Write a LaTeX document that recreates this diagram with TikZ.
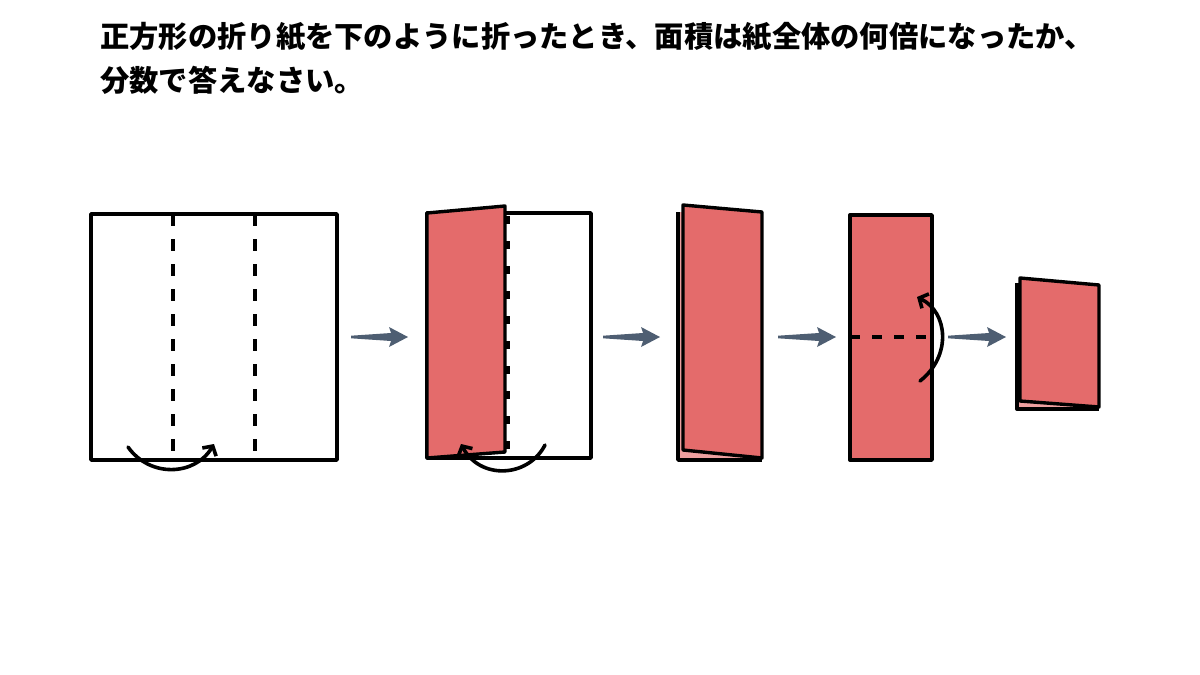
\documentclass[tikz,border=0pt]{standalone}
\usepackage{fontspec}
\newfontfamily\cjk{Noto Sans CJK JP}
\usetikzlibrary{arrows.meta,calc}
\definecolor{paperred}{RGB}{228,107,107}
\definecolor{paperpink}{RGB}{238,160,160}
\definecolor{slate}{RGB}{78,94,114}
\newcommand\slatearrow[2]{\fill[slate] ($(#1)+(0,-1.3)$) -- ($(#2)+(-17,-4)$) -- ($(#2)+(-19,-10)$) -- (#2) -- ($(#2)+(-19,10)$) -- ($(#2)+(-17,4)$) -- ($(#1)+(0,1.3)$) -- cycle;}
\begin{document}
\begin{tikzpicture}[x=1pt,y=-1pt,
  outline/.style={line width=3.4pt, line join=round},
  crease/.style={line width=3.4pt, dash pattern=on 12pt off 13pt},
  hcrease/.style={line width=3.4pt, dash pattern=on 10pt off 12pt},
  foldarrow/.style={line width=3.6pt, line cap=round, -{Straight Barb[length=7pt,width=16pt]}},
  txt/.style={font=\cjk\bfseries\fontsize{29.3}{35}\selectfont, anchor=base west, inner sep=0pt}]
\useasboundingbox (0,0) rectangle (1200,675);
% question text
\node[txt] (t1) at (100,47) {正方形の折り紙を下のように折ったとき、面積は紙全体の何倍になったか、};
\node[txt] (t2) at (100,91) {分数で答えなさい。};

% panel 1
\draw[outline] (91,214) rectangle (337,460);
\draw[crease] (173,214) -- (173,456);
\draw[crease] (255,214) -- (255,456);
\coordinate (a1s) at (128,447);
\coordinate (a1e) at (214,444);
\draw[foldarrow] (a1s) .. controls (150,478) and (195,476) .. (a1e);

% panel 2
\draw[outline, fill=white] (427,213) rectangle (591,458);
\draw[line width=3.6pt, dash pattern=on 8pt off 17pt] (508,216) -- (508,452);
\draw[outline, fill=paperred] (427,213) -- (505,206) -- (505,452) -- (427,458) -- cycle;
\coordinate (a2s) at (545,445);
\coordinate (a2e) at (461,444);
\draw[foldarrow] (a2s) .. controls (528,478) and (480,480) .. (a2e);

% panel 3
\fill[paperpink] (678,212) rectangle (762,460);
\draw[outline] (678,212) -- (678,460) -- (762,460);
\draw[outline, fill=paperred] (683,205) -- (762,212) -- (762,458) -- (683,450) -- cycle;

% panel 4
\draw[outline, fill=paperred] (850,215) rectangle (932,460);
\draw[hcrease] (850,337) -- (932,337);
\coordinate (a4s) at (920,381);
\coordinate (a4e) at (917,297);
\draw[foldarrow] (a4s) .. controls (952,356) and (948,312) .. (a4e);

% panel 5
\fill[paperpink] (1017,283) rectangle (1099,409);
\draw[outline] (1017,283) -- (1017,409) -- (1099,409);
\draw[outline, fill=paperred] (1020,278) -- (1099,285) -- (1099,407) -- (1020,401) -- cycle;

% gray arrows between steps
\coordinate (g1s) at (351,337); \coordinate (g1e) at (408,337);
\coordinate (g2s) at (603,337); \coordinate (g2e) at (660,337);
\coordinate (g3s) at (778,337); \coordinate (g3e) at (836,337);
\coordinate (g4s) at (948,337); \coordinate (g4e) at (1006,337);
\slatearrow{g1s}{g1e}
\slatearrow{g2s}{g2e}
\slatearrow{g3s}{g3e}
\slatearrow{g4s}{g4e}
\end{tikzpicture}
\end{document}
